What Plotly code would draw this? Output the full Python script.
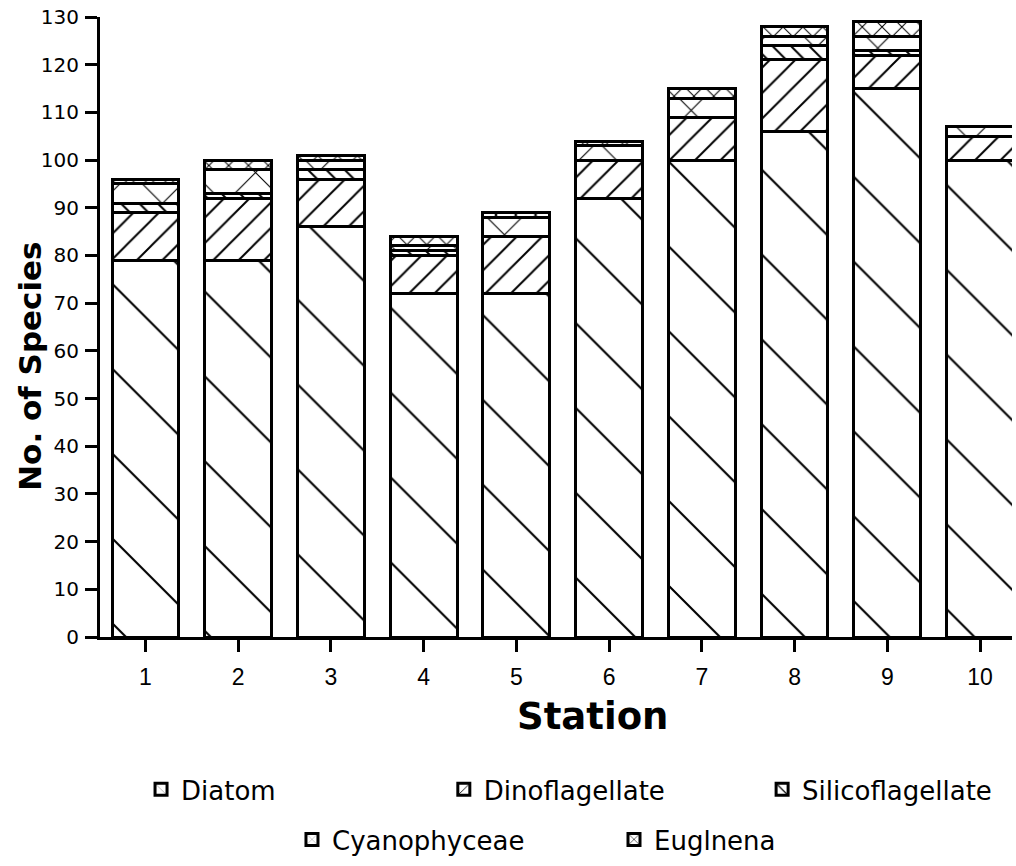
import plotly.graph_objects as go

stations = ["1", "2", "3", "4", "5", "6", "7", "8", "9", "10"]
diatom = [79, 79, 86, 72, 72, 92, 100, 106, 115, 100]
dinoflagellate = [10, 13, 10, 8, 12, 8, 9, 15, 7, 5]
silicoflagellate = [2, 1, 2, 1, 0, 0, 0, 3, 1, 0]
cyanophyceae = [4, 5, 2, 1, 4, 3, 4, 2, 3, 2]
euglnena = [1, 2, 1, 2, 1, 1, 2, 2, 3, 0]

# name, values, hatch, hatch size, solidity, legend id, legend x, legend y
series = [
    ("Diatom", diatom, "\\", 60, 0.035, "legend", 0.045, -0.208),
    ("Dinoflagellate", dinoflagellate, "/", 18, 0.11, "legend2", 0.377, -0.208),
    ("Silicoflagellate", silicoflagellate, "\\", 13, 0.15, "legend3", 0.726, -0.208),
    ("Cyanophyceae", cyanophyceae, "x", 44, 0.05, "legend4", 0.2105, -0.2887),
    ("Euglnena", euglnena, "x", 14, 0.14, "legend5", 0.5636, -0.2887),
]

sans = "Liberation Sans, Arial, sans-serif"
wide = "DejaVu Sans, Verdana, sans-serif"

fig = go.Figure()
legends = {}
for name, vals, shape, size, sol, lg, lx, ly in series:
    fig.add_trace(go.Bar(
        x=stations, y=vals, name=name, width=0.72,
        marker=dict(color="white",
                    line=dict(color="black", width=3),
                    pattern=dict(shape=shape, size=size, solidity=sol,
                                 fgcolor="black", bgcolor="white",
                                 fillmode="replace", fgopacity=1)),
        legend=lg,
    ))
    legends[lg] = dict(orientation="h", x=lx, xanchor="left", y=ly, yanchor="top",
                       font=dict(size=26, family=wide), bgcolor="rgba(0,0,0,0)")

fig.update_layout(
    barmode="stack",
    width=1016, height=866,
    margin=dict(l=100, r=4, t=17, b=229, autoexpand=False),
    plot_bgcolor="white", paper_bgcolor="white",
    font=dict(family=sans, color="black"),
    showlegend=True,
    annotations=[
        dict(text="<b>No. of Species</b>", xref="paper", yref="paper",
             x=-0.077, y=0.437, textangle=-90, showarrow=False,
             font=dict(size=31, family=wide), xanchor="center", yanchor="middle"),
        dict(text="<b>Station</b>", xref="paper", yref="paper",
             x=0.54, y=-0.129, showarrow=False,
             font=dict(size=37, family=wide), xanchor="center", yanchor="middle"),
    ],
    **legends,
)
fig.update_xaxes(
    type="category", range=[-0.49, 9.345],
    showline=True, linecolor="black", linewidth=3,
    ticks="outside", ticklen=12, tickwidth=3, tickcolor="black",
    tickfont=dict(size=23, family=sans), ticklabelstandoff=5,
    showgrid=False, zeroline=False,
)
fig.update_yaxes(
    range=[0, 130], dtick=10, tick0=0,
    showline=True, linecolor="black", linewidth=3,
    ticks="outside", ticklen=12, tickwidth=3, tickcolor="black",
    tickfont=dict(size=20, family=wide), ticklabelstandoff=2,
    showgrid=False, zeroline=False,
)

fig.write_html("out.html", config={"displayModeBar": False},
               post_script="document.body.style.margin='0px';")
